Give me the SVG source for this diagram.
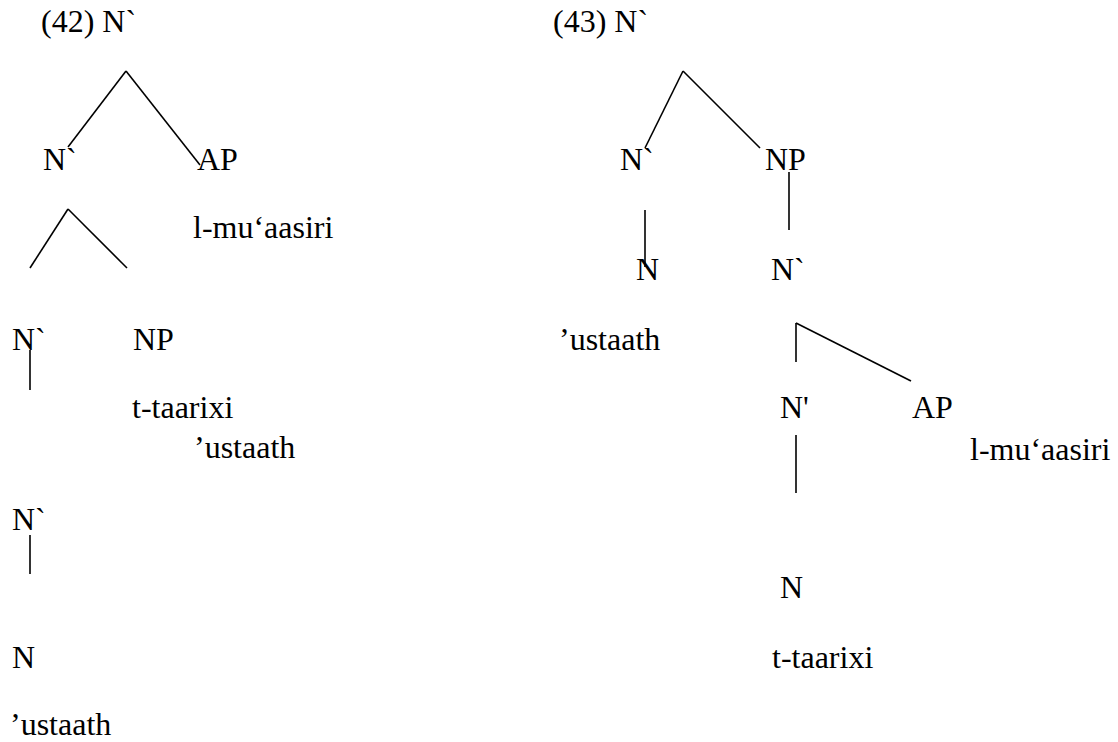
<svg xmlns="http://www.w3.org/2000/svg" width="1118" height="742" viewBox="0 0 1118 742">
<style>
text{font-family:"Liberation Serif","Times New Roman",serif;font-size:32px;fill:#000}
.c line{stroke:#000;stroke-width:1.6;stroke-linecap:butt}
</style>
<rect width="1118" height="742" fill="#fff"/>
<g class="c" id="connectors">
<line x1="126" y1="71" x2="68" y2="147"/>
<line x1="126" y1="71" x2="200" y2="165"/>
<line x1="68" y1="209" x2="30" y2="268"/>
<line x1="68" y1="209" x2="127" y2="268"/>
<line x1="30" y1="350" x2="30" y2="390"/>
<line x1="30" y1="535" x2="30" y2="574"/>
<line x1="683" y1="71" x2="645" y2="148"/>
<line x1="683" y1="71" x2="760" y2="148"/>
<line x1="789" y1="172" x2="789" y2="230"/>
<line x1="645" y1="210" x2="645" y2="267"/>
<line x1="796" y1="323" x2="796" y2="362"/>
<line x1="796" y1="323" x2="911" y2="381"/>
<line x1="796" y1="435" x2="796" y2="493"/>
</g>
<g id="t42-root"><text x="41" y="32">(42) N`</text></g>
<g id="t42-nbar1"><text x="43" y="170">N`</text></g>
<g id="t42-ap"><text x="197" y="170">AP</text></g>
<g id="t42-ap-word"><text x="193" y="238">l-mu‘aasiri</text></g>
<g id="t42-nbar2"><text x="12" y="350">N`</text></g>
<g id="t42-np"><text x="133" y="350">NP</text></g>
<g id="t42-np-word"><text x="132" y="418">t-taarixi</text></g>
<g id="t42-word-ustaath1"><text x="194" y="458">’ustaath</text></g>
<g id="t42-nbar3"><text x="12" y="530">N`</text></g>
<g id="t42-n"><text x="12" y="668">N</text></g>
<g id="t42-n-word"><text x="10" y="735">’ustaath</text></g>
<g id="t43-root"><text x="553" y="32">(43) N`</text></g>
<g id="t43-nbar1"><text x="620" y="170">N`</text></g>
<g id="t43-np"><text x="765" y="170">NP</text></g>
<g id="t43-n1"><text x="636" y="280">N</text></g>
<g id="t43-nbar2"><text x="771" y="280">N`</text></g>
<g id="t43-n1-word"><text x="559" y="350">’ustaath</text></g>
<g id="t43-nprime"><text x="780" y="418">N'</text></g>
<g id="t43-ap"><text x="912" y="418">AP</text></g>
<g id="t43-ap-word"><text x="970" y="460">l-mu‘aasiri</text></g>
<g id="t43-n2"><text x="780" y="598">N</text></g>
<g id="t43-n2-word"><text x="772" y="668">t-taarixi</text></g>
</svg>
